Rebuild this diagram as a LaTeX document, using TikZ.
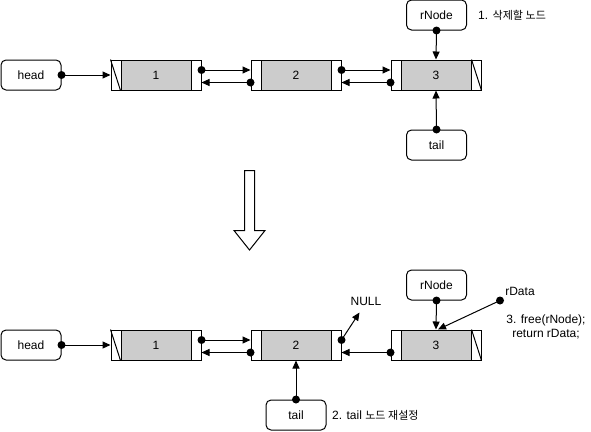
\documentclass[tikz,border=0pt]{standalone}
\usepackage{fontspec}
\setmainfont{Liberation Sans}
\newfontfamily\kr[Scale=0.92]{Noto Sans CJK KR}
\usetikzlibrary{arrows.meta}
\begin{document}
\begin{tikzpicture}[x=1pt,y=-1pt, font=\fontsize{12}{14}\selectfont,
  ptr/.style={draw, rounded corners=5pt, minimum width=60pt, minimum height=30pt, inner sep=0pt, line width=1pt, fill=white},
  lnode/.style={draw, minimum width=90pt, minimum height=30pt, inner sep=0pt, line width=1pt,
    path picture={
      \fill[gray!40] ([xshift=10pt]path picture bounding box.south west) rectangle ([xshift=-10pt]path picture bounding box.north east);
      \draw[line width=1pt] ([xshift=10pt]path picture bounding box.south west) -- ([xshift=10pt]path picture bounding box.north west);
      \draw[line width=1pt] ([xshift=-10pt]path picture bounding box.south east) -- ([xshift=-10pt]path picture bounding box.north east);
    }},
  arr/.style={line width=1pt, -{Triangle[length=8pt,width=7pt]}},
  dotmark/.style={fill=black},
  lbl/.style={inner sep=0pt, align=center}
]
\useasboundingbox (0,0) rectangle (591,431);

% ---------- top row ----------
\node[ptr] (head1) at (31,75) {head};
\node[lnode] (n1) at (156,75) {1};
\node[lnode] (n2) at (296,75) {2};
\node[lnode] (n3) at (436,75) {3};
\node[ptr] (rnode1) at (436.5,15) {rNode};
\node[ptr] (tail1) at (436.5,145) {tail};
\node[lbl, anchor=west] (t1) at (478,15) {1. {\kr 삭제할 노드}};

\draw[line width=1pt] (n1.north west) -- ([xshift=10pt]n1.south west);
\draw[line width=1pt] ([xshift=-10pt]n3.north east) -- (n3.south east);

\draw[arr] (head1.east) -- (n1.west);
\draw[arr] ([yshift=5pt]n1.east) -- ([yshift=5pt]n2.west);
\draw[arr] ([yshift=-7.5pt]n2.west) -- ([yshift=-7.5pt]n1.east);
\draw[arr] ([yshift=5pt]n2.east) -- ([yshift=5pt]n3.west);
\draw[arr] ([yshift=-7.5pt]n3.west) -- ([yshift=-7.5pt]n2.east);
\draw[arr] (rnode1.south) -- (n3.north);
\draw[arr] (tail1.north) -- (n3.south);

\fill[dotmark] (head1.east) circle (4pt);
\fill[dotmark] ([yshift=5pt]n1.east) circle (4pt);
\fill[dotmark] ([yshift=-7.5pt]n2.west) circle (4pt);
\fill[dotmark] ([yshift=5pt]n2.east) circle (4pt);
\fill[dotmark] ([yshift=-7.5pt]n3.west) circle (4pt);
\fill[dotmark] (rnode1.south) circle (4pt);
\fill[dotmark] (tail1.north) circle (4pt);

% ---------- big arrow ----------
\draw[line width=1pt, fill=white] (244.5,170.5) -- (254.5,170.5) -- (254.5,230.5) -- (265,230.5) -- (249.5,250) -- (234,230.5) -- (244.5,230.5) -- cycle;

% ---------- bottom row ----------
\node[ptr] (head2) at (31,345) {head};
\node[lnode] (m1) at (156,345) {1};
\node[lnode] (m2) at (296,345) {2};
\node[lnode] (m3) at (436,345) {3};
\node[ptr] (rnode2) at (436.5,285) {rNode};
\node[ptr] (tail2) at (296,415) {tail};
\node[lbl] (null) at (366,301) {NULL};
\coordinate (nullpt) at (359.5,312.5);
\node[lbl] (rdatalbl) at (520,291) {rData};
\coordinate (rdata) at (500,300.5);
\node[lbl] (t3) at (546,327) {3. free(rNode);\\return rData;};
\node[lbl, anchor=west] (t2) at (332,415) {2. tail {\kr 노드 재설정}};

\draw[line width=1pt] (m1.north west) -- ([xshift=10pt]m1.south west);
\draw[line width=1pt] ([xshift=-10pt]m3.north east) -- (m3.south east);

\draw[arr] (head2.east) -- (m1.west);
\draw[arr] ([yshift=5pt]m1.east) -- ([yshift=5pt]m2.west);
\draw[arr] ([yshift=-7.5pt]m2.west) -- ([yshift=-7.5pt]m1.east);
\draw[arr] ([yshift=5pt]m2.east) -- (nullpt);
\draw[arr] ([yshift=-7.5pt]m3.west) -- ([yshift=-7.5pt]m2.east);
\draw[arr] (rnode2.south) -- (m3.north);
\draw[arr] (rdata) -- ([xshift=2pt]m3.north);
\draw[arr] (tail2.north) -- (m2.south);

\fill[dotmark] (head2.east) circle (4pt);
\fill[dotmark] ([yshift=5pt]m1.east) circle (4pt);
\fill[dotmark] ([yshift=-7.5pt]m2.west) circle (4pt);
\fill[dotmark] ([yshift=5pt]m2.east) circle (4pt);
\fill[dotmark] ([yshift=-7.5pt]m3.west) circle (4pt);
\fill[dotmark] (rnode2.south) circle (4pt);
\fill[dotmark] (rdata) circle (4pt);
\fill[dotmark] (tail2.north) circle (4pt);
\end{tikzpicture}
\end{document}
